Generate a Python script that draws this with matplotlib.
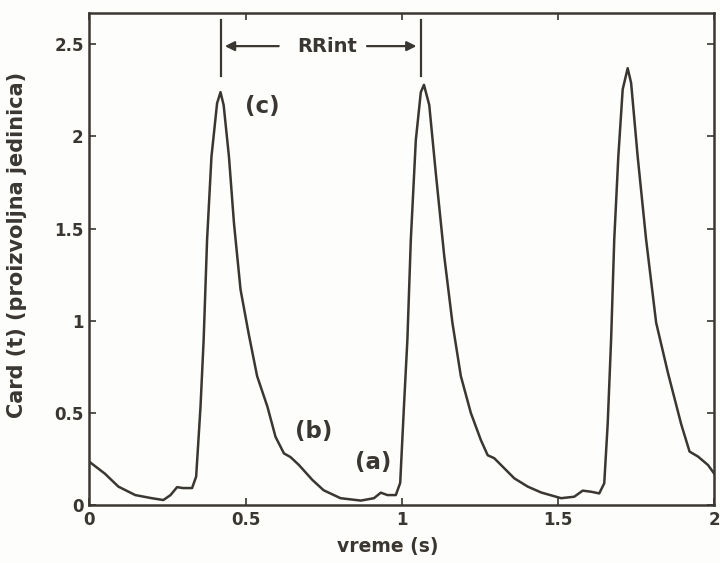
import matplotlib
matplotlib.use('Agg')
import matplotlib.pyplot as plt

# values
t = [0.0, 0.05, 0.093, 0.147, 0.20, 0.237, 0.26, 0.281, 0.30, 0.329, 0.342, 0.356,
     0.366, 0.377, 0.391, 0.409, 0.42, 0.43, 0.447, 0.463, 0.484, 0.51, 0.537, 0.57,
     0.596, 0.623, 0.644, 0.671, 0.714, 0.75, 0.804, 0.869, 0.911, 0.933, 0.954, 0.981,
     0.995, 1.007, 1.018, 1.029, 1.045, 1.061, 1.071, 1.088, 1.109, 1.136, 1.162, 1.189,
     1.221, 1.253, 1.275, 1.296, 1.323, 1.36, 1.403, 1.446, 1.51, 1.552, 1.579, 1.606,
     1.632, 1.648, 1.659, 1.67, 1.68, 1.693, 1.707, 1.723, 1.734, 1.755, 1.782, 1.814,
     1.852, 1.894, 1.921, 1.948, 1.98, 2.0]
card = [0.235, 0.17, 0.10, 0.054, 0.037, 0.027, 0.054, 0.097, 0.092, 0.092, 0.154, 0.534,
        0.897, 1.44, 1.89, 2.18, 2.24, 2.17, 1.89, 1.53, 1.17, 0.93, 0.70, 0.534,
        0.37, 0.28, 0.26, 0.217, 0.136, 0.08, 0.037, 0.024, 0.037, 0.067, 0.054, 0.054,
        0.12, 0.534, 0.897, 1.44, 1.98, 2.24, 2.28, 2.17, 1.80, 1.35, 0.99, 0.70,
        0.50, 0.353, 0.27, 0.254, 0.208, 0.145, 0.10, 0.068, 0.037, 0.045, 0.078, 0.072,
        0.063, 0.118, 0.44, 0.90, 1.44, 1.89, 2.255, 2.37, 2.29, 1.89, 1.44, 0.99,
        0.716, 0.44, 0.29, 0.263, 0.217, 0.17]

labels = ['(c)', '(b)', '(a)']
label_x = [0.555, 0.718, 0.907]
label_y = [2.16, 0.40, 0.23]
rr_peaks = [0.42, 1.061]

ink = '#3a3632'
plt.rcParams['font.family'] = 'DejaVu Sans'
plt.rcParams['font.weight'] = 'bold'

fig = plt.figure(figsize=(7.2, 5.63), dpi=100, facecolor='#fdfdfb')
ax = fig.add_axes([0.124, 0.103, 0.868, 0.874])
ax.set_facecolor('#fdfdfb')

ax.plot(t, card, color=ink, lw=1.8, solid_joinstyle='round')

for lab, x, y in zip(labels, label_x, label_y):
    ax.text(x, y, lab, ha='center', va='center', fontsize=16.5, fontweight='bold', color=ink)

# RR interval marker
for p in rr_peaks:
    ax.plot([p, p], [2.33, 2.63], color=ink, lw=1.6)
ax.annotate('', xy=(rr_peaks[0] + 0.005, 2.49), xytext=(0.615, 2.49),
            arrowprops=dict(arrowstyle='-|>', color=ink, lw=1.6, mutation_scale=14))
ax.annotate('', xy=(rr_peaks[1] - 0.005, 2.49), xytext=(0.88, 2.49),
            arrowprops=dict(arrowstyle='-|>', color=ink, lw=1.6, mutation_scale=14))
ax.text(0.76, 2.49, 'RRint', ha='center', va='center', fontsize=14, fontweight='bold', color=ink)

ax.set_xlim(0, 2)
ax.set_ylim(0, 2.67)
ax.set_xticks([0, 0.5, 1, 1.5, 2])
ax.set_xticklabels(['0', '0.5', '1', '1.5', '2'])
ax.set_yticks([0, 0.5, 1, 1.5, 2, 2.5])
ax.set_yticklabels(['0', '0.5', '1', '1.5', '2', '2.5'])
ax.tick_params(direction='in', length=5, width=1.2, top=True, right=True,
               labelsize=12, colors=ink, pad=4)
for s in ax.spines.values():
    s.set_color(ink)
    s.set_linewidth(1.8)

ax.set_xlabel('vreme (s)', fontsize=13.5, fontweight='bold', color=ink)
ax.xaxis.set_label_coords(0.478, -0.065)
ax.set_ylabel('Card (t) (proizvoljna jedinica)', fontsize=15, fontweight='bold', color=ink)
ax.yaxis.set_label_coords(-0.099, 0.528)

plt.savefig('out.png', dpi=100, facecolor=fig.get_facecolor())
